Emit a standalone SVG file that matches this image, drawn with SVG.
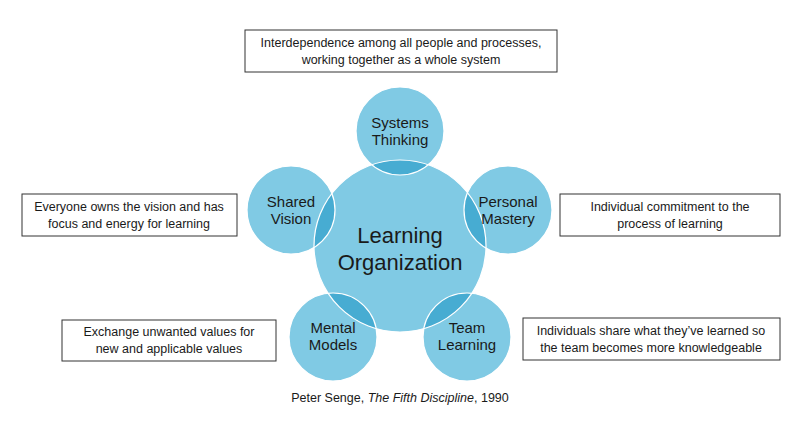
<svg xmlns="http://www.w3.org/2000/svg" width="800" height="436" viewBox="0 0 800 436">
<style>
.c{fill:#80cae4}
.o{fill:#47acd2}
.s{fill:none;stroke:#fff;stroke-width:1.2}
.t{font-family:"Liberation Sans",Arial,sans-serif;fill:#1a1a1a;text-anchor:middle}
.n{font-size:15px}
.b{font-size:12.5px}
.box{fill:#fff;stroke:#333;stroke-width:1}
</style>
<defs><clipPath id="big"><circle cx="400" cy="246" r="86"/></clipPath></defs>
<rect width="800" height="436" fill="#fff"/>
<g id="connectors"></g>
<g id="learning-organization"><circle class="c" cx="400" cy="246" r="86"/></g>
<g id="systems-thinking"><circle class="c" cx="400" cy="131" r="44"/></g>
<g id="personal-mastery"><circle class="c" cx="508" cy="210" r="44"/></g>
<g id="shared-vision"><circle class="c" cx="291" cy="210" r="44"/></g>
<g id="mental-models"><circle class="c" cx="333" cy="337" r="44"/></g>
<g id="team-learning"><circle class="c" cx="467" cy="337" r="44"/></g>
<g clip-path="url(#big)">
<circle class="o" cx="400" cy="131" r="44"/><circle class="o" cx="508" cy="210" r="44"/><circle class="o" cx="291" cy="210" r="44"/><circle class="o" cx="333" cy="337" r="44"/><circle class="o" cx="467" cy="337" r="44"/>
</g>
<circle class="s" cx="400" cy="246" r="86"/>
<circle class="s" cx="400" cy="131" r="44"/><circle class="s" cx="508" cy="210" r="44"/><circle class="s" cx="291" cy="210" r="44"/><circle class="s" cx="333" cy="337" r="44"/><circle class="s" cx="467" cy="337" r="44"/>
<text class="t" font-size="22" x="400" y="243">Learning</text>
<text class="t" font-size="22" x="400" y="270">Organization</text>
<text class="t n" x="400" y="128">Systems</text><text class="t n" x="400" y="145">Thinking</text>
<text class="t n" x="508" y="207">Personal</text><text class="t n" x="508" y="224">Mastery</text>
<text class="t n" x="291" y="207">Shared</text><text class="t n" x="291" y="224">Vision</text>
<text class="t n" x="333" y="333">Mental</text><text class="t n" x="333" y="350">Models</text>
<text class="t n" x="467" y="333">Team</text><text class="t n" x="467" y="350">Learning</text>
<g id="box-top"><rect class="box" x="245" y="30" width="312" height="42"/>
<text class="t b" x="401" y="47">Interdependence among all people and processes,</text><text class="t b" x="401" y="64">working together as a whole system</text></g>
<g id="box-left"><rect class="box" x="22" y="194" width="215" height="42"/>
<text class="t b" x="129" y="211">Everyone owns the vision and has</text><text class="t b" x="129" y="228">focus and energy for learning</text></g>
<g id="box-right"><rect class="box" x="560" y="194" width="220" height="42"/>
<text class="t b" x="670" y="211">Individual commitment to the</text><text class="t b" x="670" y="228">process of learning</text></g>
<g id="box-lower-left"><rect class="box" x="62" y="320" width="214" height="41"/>
<text class="t b" x="169" y="336">Exchange unwanted values for</text><text class="t b" x="169" y="353">new and applicable values</text></g>
<g id="box-lower-right"><rect class="box" x="523" y="318" width="257" height="42"/>
<text class="t b" x="651" y="335">Individuals share what they’ve learned so</text><text class="t b" x="651" y="352">the team becomes more knowledgeable</text></g>
<text class="t b" x="400" y="402">Peter Senge, <tspan font-style="italic">The Fifth Discipline</tspan>, 1990</text>
</svg>
